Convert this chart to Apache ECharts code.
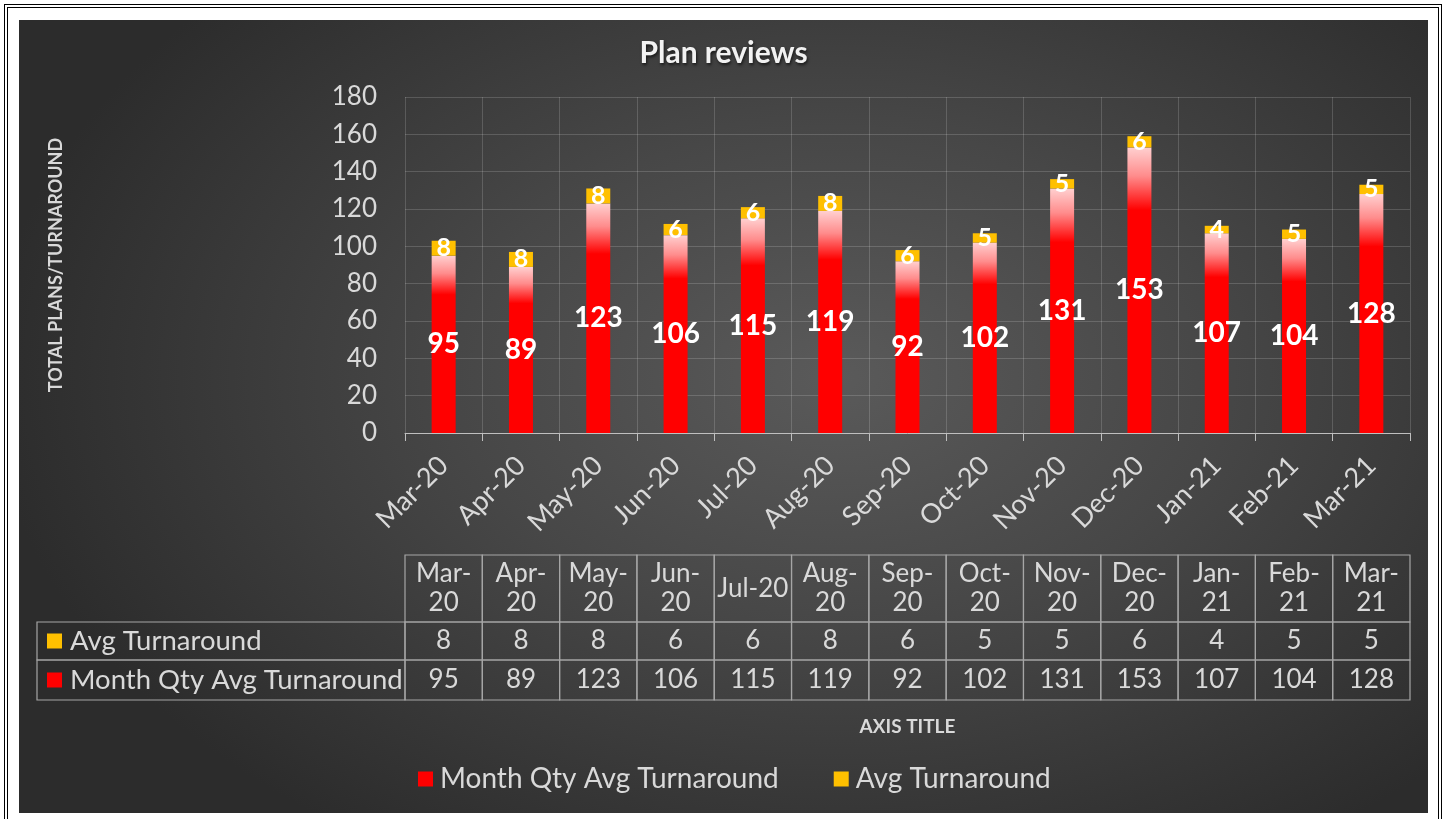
<!DOCTYPE html>
<html>
<head>
<meta charset="utf-8">
<script src="https://cdn.jsdelivr.net/npm/echarts@6/dist/echarts.min.js"></script>
<style>
  html, body { margin: 0; padding: 0; background: #ffffff; width: 1444px; height: 819px; overflow: hidden; }
  #frame { position: absolute; left: 4px; top: 4px; width: 1430px; height: 811px; border: 4px double #000; }
  #chart { position: absolute; left: 19px; top: 20px; width: 1409px; height: 793px;
    background: radial-gradient(ellipse 60% 70% at 58% 45%, #5a5a5a 0%, #474747 45%, #2c2c2c 100%); }
</style>
</head>
<body>
<div id="frame"></div>
<div id="chart"></div>
<script>
// ---- data ----
const categories = ['Mar-20','Apr-20','May-20','Jun-20','Jul-20','Aug-20','Sep-20','Oct-20','Nov-20','Dec-20','Jan-21','Feb-21','Mar-21'];
const monthQty = [95, 89, 123, 106, 115, 119, 92, 102, 131, 153, 107, 104, 128];
const avgTurnaround = [8, 8, 8, 6, 6, 8, 6, 5, 5, 6, 4, 5, 5];
const seriesNames = ['Month Qty Avg Turnaround', 'Avg Turnaround'];
const yMin = 0, yMax = 180, yStep = 20;
const chartTitle = 'Plan reviews';
const yTitle = 'TOTAL PLANS/TURNAROUND';
const xTitle = 'AXIS TITLE';

const RED = '#ff0000', GOLD = '#ffc000', TXT = '#d9d9d9', FONT = 'Lato';
const chart = echarts.init(document.getElementById('chart'), null, { renderer: 'canvas' });

const option = {
  backgroundColor: 'transparent',
  textStyle: { fontFamily: FONT },
  title: { text: chartTitle, left: 'center', top: 13,
    textStyle: { color: '#f2f2f2', fontSize: 30, fontWeight: 'bold', fontFamily: FONT,
      textShadowColor: 'rgba(0,0,0,0.6)', textShadowBlur: 3, textShadowOffsetX: 1, textShadowOffsetY: 2 } },
  grid: { left: 386, right: 18, top: 77, bottom: 380, containLabel: false },
  legend: {
    left: 394, bottom: 15, icon: 'rect', itemWidth: 15, itemHeight: 15, itemGap: 55,
    textStyle: { color: TXT, fontSize: 28, fontFamily: FONT, padding: [0, 0, 0, 2] },
    data: [
      { name: seriesNames[0], itemStyle: { color: RED } },
      { name: seriesNames[1], itemStyle: { color: GOLD } }
    ]
  },
  xAxis: {
    type: 'category', data: categories,
    axisLine: { lineStyle: { color: '#bfbfbf', width: 1 } },
    axisTick: { show: true, length: 8, lineStyle: { color: '#bfbfbf' } },
    axisLabel: { rotate: 45, interval: 0, color: TXT, fontSize: 27, margin: 28, fontFamily: FONT },
    splitLine: { show: true, interval: 0, lineStyle: { color: 'rgba(255,255,255,0.16)' } },
    name: xTitle, nameLocation: 'middle', nameGap: 284,
    nameTextStyle: { color: TXT, fontSize: 19, fontWeight: 'bold', fontFamily: FONT }
  },
  yAxis: {
    type: 'value', min: yMin, max: yMax, interval: yStep,
    axisLine: { show: false }, axisTick: { show: false },
    axisLabel: { color: TXT, fontSize: 26, margin: 28, fontFamily: FONT },
    splitLine: { show: true, lineStyle: { color: 'rgba(255,255,255,0.16)' } },
    name: yTitle, nameLocation: 'middle', nameGap: 340, nameRotate: 90,
    nameTextStyle: { color: TXT, fontSize: 18, fontWeight: 'bold', fontFamily: FONT }
  },
  series: [
    {
      name: seriesNames[0], type: 'bar', stack: 'total', barWidth: 24, data: monthQty,
      itemStyle: { color: new echarts.graphic.LinearGradient(0, 0, 0, 1, [
        { offset: 0, color: '#ffd0d0' },
        { offset: 0.1, color: '#ff8c8c' },
        { offset: 0.22, color: '#ff0000' },
        { offset: 1, color: '#ff0000' }
      ]) },
      label: { show: true, position: 'inside', color: '#ffffff', fontSize: 28, fontWeight: 'bold', fontFamily: FONT }
    },
    {
      name: seriesNames[1], type: 'bar', stack: 'total', barWidth: 24, data: avgTurnaround,
      itemStyle: { color: GOLD },
      label: { show: true, position: 'inside', color: '#ffffff', fontSize: 25, fontWeight: 'bold', fontFamily: FONT }
    }
  ]
};
chart.setOption(option);

// ---- data table under the axis, aligned with the category scale ----
function buildTable() {
  const p0 = chart.convertToPixel({ xAxisIndex: 0 }, 0);
  const p1 = chart.convertToPixel({ xAxisIndex: 0 }, 1);
  const band = p1 - p0;
  const left = p0 - band / 2;
  const n = categories.length;
  const rowTop = [535, 602, 640, 680];
  const labelLeft = 18;
  const fs = 26;
  const stroke = { stroke: '#a6a6a6', lineWidth: 1.2, fill: 'none' };
  const ctx = document.createElement('canvas').getContext('2d');
  ctx.font = fs + 'px ' + FONT;
  const els = [];
  const txt = (x, y, s, align, size) => ({ type: 'text', silent: true,
    style: { x: x, y: y, text: s, fill: TXT, fontSize: size || fs, fontFamily: FONT, align: align || 'center', verticalAlign: 'middle', lineHeight: 29 } });
  // left label cells
  [[1, seriesNames[1], GOLD], [2, seriesNames[0], RED]].forEach(([r, name, col]) => {
    els.push({ type: 'rect', shape: { x: labelLeft, y: rowTop[r], width: left - labelLeft, height: rowTop[r + 1] - rowTop[r] }, style: stroke, silent: true });
    const cy = (rowTop[r] + rowTop[r + 1]) / 2;
    els.push({ type: 'rect', shape: { x: 28, y: cy - 7.5, width: 15, height: 15 }, style: { fill: col }, silent: true });
    els.push(txt(51, cy, name, 'left', 27.5));
  });
  for (let i = 0; i < n; i++) {
    const x = left + i * band;
    const cx = chart.convertToPixel({ xAxisIndex: 0 }, i);
    for (let r = 0; r < 3; r++) {
      els.push({ type: 'rect', shape: { x: x, y: rowTop[r], width: band, height: rowTop[r + 1] - rowTop[r] }, style: stroke, silent: true });
    }
    let head = categories[i];
    if (ctx.measureText(head).width > band - 6) head = head.replace('-', '-\n');
    els.push(txt(cx, (rowTop[0] + rowTop[1]) / 2, head));
    els.push(txt(cx, (rowTop[1] + rowTop[2]) / 2, String(avgTurnaround[i])));
    els.push(txt(cx, (rowTop[2] + rowTop[3]) / 2, String(monthQty[i])));
  }
  chart.setOption({ graphic: { elements: els } });
}
buildTable();
</script>
</body>
</html>
